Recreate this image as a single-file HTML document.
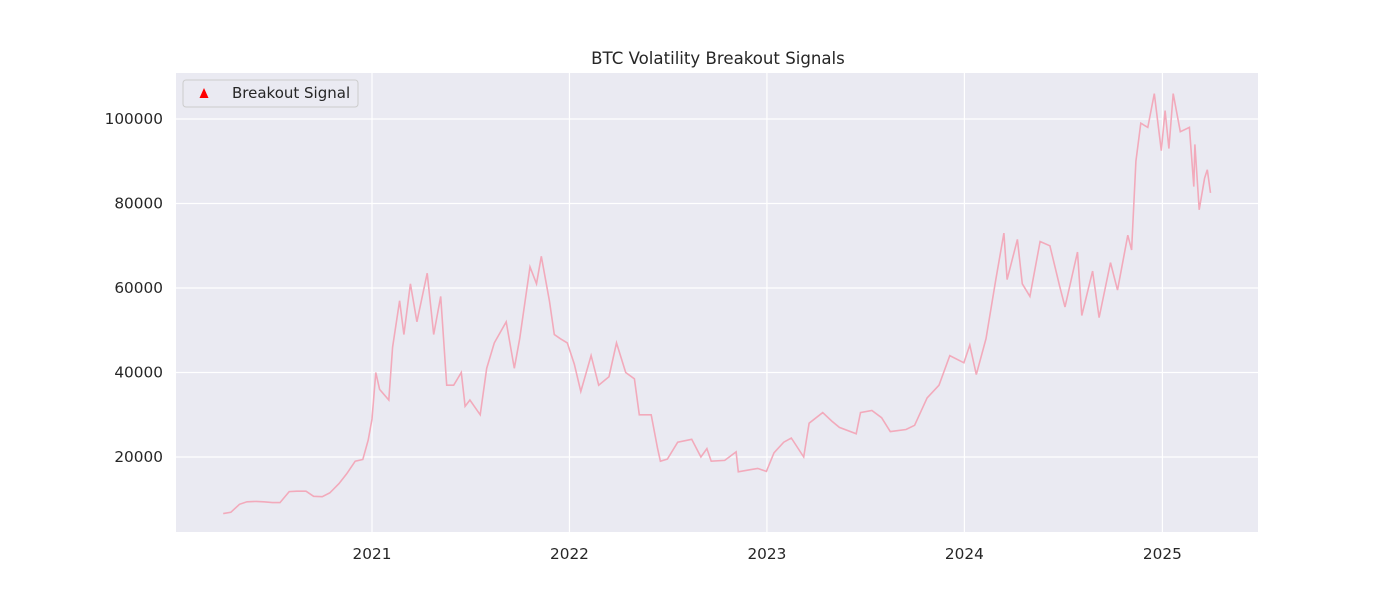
<!DOCTYPE html>
<html><head><meta charset="utf-8"><style>
body{margin:0;background:#fff;}
svg text{font-family:"DejaVu Sans","Liberation Sans",sans-serif;fill:#262626;}
</style></head><body>
<svg width="1400" height="600">
<rect x="176" y="73" width="1082" height="459" fill="#eaeaf2"/>
<g id="grid"></g>
<g id="ticks"></g>
<polyline id="line" fill="none" stroke="#f2aabb" stroke-width="1.6"/>
<text x="718" y="64" text-anchor="middle" font-size="16.6">BTC Volatility Breakout Signals</text>
<g>
<rect x="183" y="80" width="175" height="27" rx="3" fill="#eaeaf2" stroke="#cccccc"/>
<polygon points="204,88 199.5,98 208.5,98" fill="red"/>
<text x="232" y="98" font-size="15">Breakout Signal</text>
</g>
</svg>
<script>
const dates=["2020-04-01","2020-04-15","2020-05-01","2020-05-15","2020-06-01","2020-06-15","2020-07-01","2020-07-15","2020-08-01","2020-08-15","2020-09-01","2020-09-15","2020-10-01","2020-10-15","2020-11-01","2020-11-15","2020-12-01","2020-12-15","2020-12-25",
"2021-01-01","2021-01-08","2021-01-15","2021-02-01","2021-02-08","2021-02-21","2021-03-01","2021-03-13","2021-03-25","2021-04-13","2021-04-25","2021-05-08","2021-05-19","2021-06-01","2021-06-15","2021-06-22","2021-07-01","2021-07-20","2021-08-01","2021-08-15","2021-09-06","2021-09-21","2021-10-01","2021-10-20","2021-11-01","2021-11-10","2021-11-25","2021-12-04","2021-12-15","2021-12-28",
"2022-01-10","2022-01-22","2022-02-10","2022-02-24","2022-03-15","2022-03-29","2022-04-15","2022-05-01","2022-05-10","2022-06-01","2022-06-13","2022-06-18","2022-07-01","2022-07-20","2022-08-15","2022-09-01","2022-09-12","2022-09-20","2022-10-15","2022-11-05","2022-11-09","2022-12-01","2022-12-15","2022-12-31",
"2023-01-14","2023-02-01","2023-02-15","2023-03-10","2023-03-20","2023-04-14","2023-05-01","2023-05-15","2023-06-15","2023-06-23","2023-07-14","2023-08-01","2023-08-17","2023-09-15","2023-10-01","2023-10-24","2023-11-15","2023-12-05","2023-12-31",
"2024-01-11","2024-01-23","2024-02-10","2024-02-28","2024-03-14","2024-03-20","2024-04-08","2024-04-17","2024-05-01","2024-05-20","2024-06-07","2024-06-25","2024-07-05","2024-07-28","2024-08-05","2024-08-25","2024-09-06","2024-09-27","2024-10-10","2024-10-29","2024-11-05","2024-11-13","2024-11-22","2024-12-05","2024-12-17","2024-12-30",
"2025-01-06","2025-01-13","2025-01-21","2025-02-03","2025-02-20","2025-02-28","2025-03-02","2025-03-10","2025-03-20","2025-03-25","2025-03-31"];
const prices=[6600,6900,8800,9400,9500,9400,9200,9200,11800,11900,11900,10700,10600,11500,13700,16000,19000,19400,24000,
29000,40000,36000,33500,46000,57000,49000,61000,52000,63500,49000,58000,37000,37000,40000,32000,33500,30000,41000,47000,52000,41000,48000,65000,61000,67500,57000,49000,48000,47000,
42000,35500,44000,37000,39000,47000,40000,38500,30000,30000,22000,19000,19500,23500,24200,20000,22000,19000,19200,21200,16500,17000,17300,16600,
21000,23500,24500,20000,28000,30500,28500,27000,25500,30500,31000,29300,26000,26500,27500,34000,37000,44000,42300,
46500,39500,48000,62000,73000,62000,71500,61000,58000,71000,70000,60500,55500,68500,53500,64000,53000,66000,59500,72500,69000,90000,99000,98000,106000,92500,
102000,93000,106000,97000,98000,84000,94000,78500,86000,88000,82500];
const yTicks=[20000,40000,60000,80000,100000];
const xTicks=["2021","2022","2023","2024","2025"];
const NS="http://www.w3.org/2000/svg";
const t0=Date.UTC(2021,0,1), yr=365.25*864e5;
const xs=d=>372+(Date.parse(d)-t0)/yr*197.6;
const ys=v=>457-(v-20000)*338/80000;
const grid=document.getElementById('grid'), ticks=document.getElementById('ticks');
yTicks.forEach(v=>{
 const l=document.createElementNS(NS,'line');
 
 
 l.setAttribute('x1',176);l.setAttribute('x2',1258);l.setAttribute('y1',ys(v));l.setAttribute('y2',ys(v));
 l.setAttribute('stroke','#fff');l.setAttribute('stroke-width','1.2');grid.appendChild(l);
 const t=document.createElementNS(NS,'text');
 
 
 t.setAttribute('x',163);t.setAttribute('y',ys(v)+5);t.setAttribute('text-anchor','end');t.setAttribute('font-size','15.3');
 t.textContent=v;ticks.appendChild(t);
});
xTicks.forEach(y=>{
 const x=xs(y+"-01-01");
 const l=document.createElementNS(NS,'line');
 
 
 l.setAttribute('x1',x);l.setAttribute('x2',x);l.setAttribute('y1',73);l.setAttribute('y2',532);
 l.setAttribute('stroke','#fff');l.setAttribute('stroke-width','1.2');grid.appendChild(l);
 const t=document.createElementNS(NS,'text');
 
 
 t.setAttribute('x',x);t.setAttribute('y',559);t.setAttribute('text-anchor','middle');t.setAttribute('font-size','15.3');
 t.textContent=y;ticks.appendChild(t);
});
document.getElementById('line').setAttribute('points',dates.map((d,i)=>xs(d).toFixed(1)+","+ys(prices[i]).toFixed(1)).join(" "));
</script>
</body></html>
